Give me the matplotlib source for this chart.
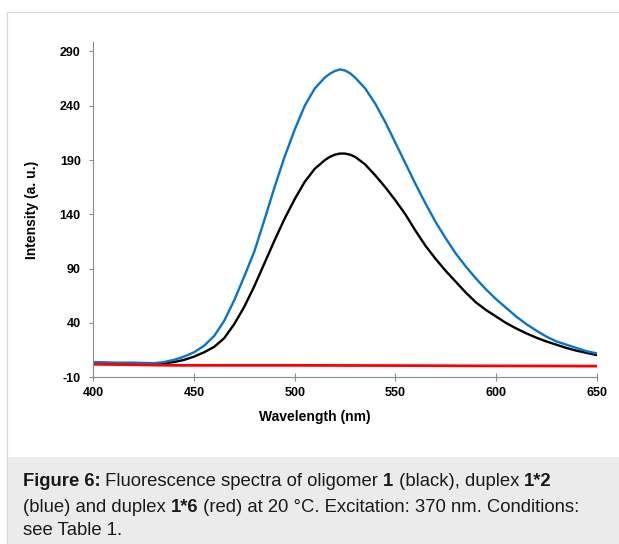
import numpy as np
import matplotlib
matplotlib.use('Agg')
import matplotlib.pyplot as plt
from matplotlib.patches import Rectangle
from matplotlib.transforms import IdentityTransform

plt.rcParams['font.family'] = ['Liberation Sans', 'DejaVu Sans']
plt.rcParams['axes.unicode_minus'] = False

# spectra (wavelength in nm, intensity in a.u.)
wl = [400, 410, 420, 430, 435, 440, 445, 450, 455, 460, 465, 470, 475, 480,
      485, 490, 495, 500, 505, 510, 515, 517.5, 520, 522.5, 525, 527.5, 530,
      535, 540, 545, 550, 555, 560, 565, 570, 575, 580, 585, 590, 595, 600,
      605, 610, 615, 620, 625, 630, 635, 640, 645, 650]
oligomer_1 = [3.5, 3, 3, 2.5, 3, 4, 6, 9, 13, 18, 26, 39, 55, 74,
              95, 116, 136, 154, 170, 182, 190, 193, 195, 196, 196, 195, 193,
              186, 176, 165, 153, 140, 125, 111, 99, 88, 78, 68, 59, 52, 46,
              40, 35, 30.5, 26.5, 23, 20, 17, 14.5, 12.5, 10.5]
duplex_1_2 = [4, 3.5, 3.5, 3, 4, 6, 9, 13, 19, 28, 42, 61, 83, 106,
              135, 165, 193, 218, 240, 256, 266, 269.5, 272, 273.5, 272.5, 270, 266,
              256, 242, 225, 206, 187, 168, 150, 133, 118, 104, 92, 81, 71, 62,
              54, 46, 39, 33, 27.5, 23, 20, 17, 14, 12]
wl_red = [400, 420, 440, 500, 550, 600, 650]
duplex_1_6 = [2, 1.5, 1, 1, 0.8, 0.5, 0.3]

xticks = [400, 450, 500, 550, 600, 650]
yticks = [-10, 40, 90, 140, 190, 240, 290]

W, H = 619, 544
fig = plt.figure(figsize=(W/100, H/100), dpi=100)

# panel border and caption background
fig.patches.append(Rectangle((6.5, 0), 620, 87.3, transform=IdentityTransform(),
                             facecolor='#ebebeb', edgecolor='none', zorder=0))
fig.patches.append(Rectangle((6.5, -5), 640, 537.3, transform=IdentityTransform(),
                             facecolor='none', edgecolor='#d6d6d6', linewidth=0.8, zorder=1))

ax = fig.add_axes([93.3/W, (H-377.3)/H, 503.4/W, 335.6/H])
ax.plot(wl, oligomer_1, color='black', lw=1.7)
ax.plot(wl, duplex_1_2, color='#0a74c6', lw=1.7)
ax.plot(wl_red, duplex_1_6, color='#ff0000', lw=2.0)

ax.set_xlim(400, 650)
ax.set_ylim(-10, 299)
ax.set_xticks(xticks)
ax.set_yticks(yticks)
for s in ['top', 'right']:
    ax.spines[s].set_visible(False)
for s in ['left', 'bottom']:
    ax.spines[s].set_color('#8c8c8c')
    ax.spines[s].set_linewidth(0.8)
ax.tick_params(axis='x', direction='inout', length=6, width=0.8, color='#8c8c8c', pad=4)
ax.tick_params(axis='y', direction='out', length=3, width=0.8, color='#8c8c8c', pad=6)
for lab in ax.get_xticklabels() + ax.get_yticklabels():
    lab.set_fontweight('bold')
    lab.set_fontsize(9)

ax.set_xlabel('Wavelength (nm)', fontsize=10, fontweight='bold', va='center')
ax.set_ylabel('Intensity (a. u.)', fontsize=10, fontweight='bold', va='center')
ax.xaxis.set_label_coords((315-93.3)/503.4, (377.3-417)/335.6)
ax.yaxis.set_label_coords((31.7-93.3)/503.4, 0.5)

# caption with mixed bold / regular runs
renderer = fig.canvas.get_renderer()
cap_size = 13.3

def text_width(s, bold):
    t = fig.text(0, 0, s + '.', fontsize=cap_size, fontweight='bold' if bold else 'normal')
    d = fig.text(0, 0, '.', fontsize=cap_size, fontweight='bold' if bold else 'normal')
    w = t.get_window_extent(renderer).width - d.get_window_extent(renderer).width
    t.remove()
    d.remove()
    return w

def rich_line(x, y, parts):
    for s, bold in parts:
        fig.text(x, y, s, transform=IdentityTransform(), fontsize=cap_size,
                 fontweight='bold' if bold else 'normal', color='#1a1a1a',
                 va='baseline', ha='left')
        x += text_width(s, bold)

caption = [
    [('Figure 6:', True), (' Fluorescence spectra of oligomer ', False), ('1', True),
     (' (black), duplex ', False), ('1*2', True)],
    [('(blue) and duplex ', False), ('1*6', True),
     (' (red) at 20 \u00b0C. Excitation: 370 nm. Conditions:', False)],
    [('see Table 1.', False)],
]
for parts, yb in zip(caption, [58, 32.3, 9]):
    rich_line(22.7, yb, parts)

fig.savefig('out.png', dpi=100)
